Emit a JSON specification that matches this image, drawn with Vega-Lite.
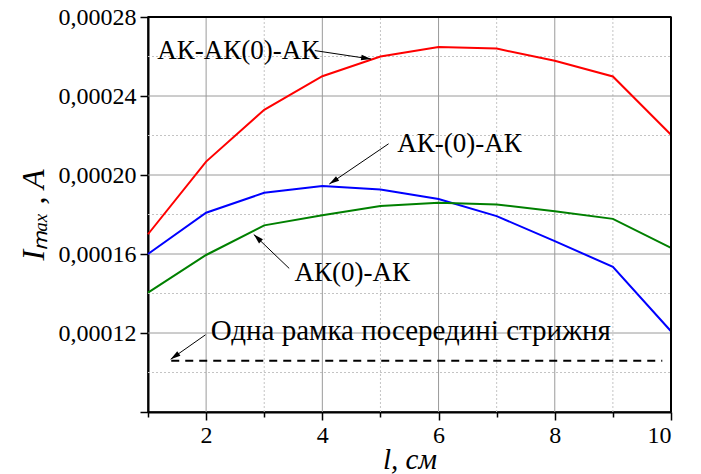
{
  "$schema": "https://vega.github.io/schema/vega-lite/v6.json",
  "width": 523,
  "height": 395,
  "autosize": {"type": "pad"},
  "padding": {"left": 17, "top": 5, "right": 5, "bottom": 0},
  "background": "white",
  "config": {
    "font": "Liberation Serif",
    "view": {"stroke": "black", "strokeWidth": 1.5},
    "axis": {
      "grid": false,
      "domainColor": "black",
      "domainWidth": 2,
      "tickColor": "black",
      "tickWidth": 1.5,
      "labelColor": "black",
      "labelFont": "Liberation Serif",
      "labelFontSize": 24,
      "titleColor": "black",
      "titleFont": "Liberation Serif",
      "titleFontWeight": "normal",
      "titleFontStyle": "italic"
    }
  },
  "datasets": {
    "curves": [
      {"l": 1, "I": 0.000170, "series": "АК-АК(0)-АК"},
      {"l": 2, "I": 0.0002068, "series": "АК-АК(0)-АК"},
      {"l": 3, "I": 0.0002330, "series": "АК-АК(0)-АК"},
      {"l": 4, "I": 0.0002500, "series": "АК-АК(0)-АК"},
      {"l": 5, "I": 0.0002600, "series": "АК-АК(0)-АК"},
      {"l": 6, "I": 0.0002648, "series": "АК-АК(0)-АК"},
      {"l": 7, "I": 0.0002640, "series": "АК-АК(0)-АК"},
      {"l": 8, "I": 0.0002578, "series": "АК-АК(0)-АК"},
      {"l": 9, "I": 0.0002499, "series": "АК-АК(0)-АК"},
      {"l": 10, "I": 0.0002204, "series": "АК-АК(0)-АК"},
      {"l": 1, "I": 0.000160, "series": "АК-(0)-АК"},
      {"l": 2, "I": 0.0001809, "series": "АК-(0)-АК"},
      {"l": 3, "I": 0.0001910, "series": "АК-(0)-АК"},
      {"l": 4, "I": 0.0001944, "series": "АК-(0)-АК"},
      {"l": 5, "I": 0.0001927, "series": "АК-(0)-АК"},
      {"l": 6, "I": 0.0001878, "series": "АК-(0)-АК"},
      {"l": 7, "I": 0.0001792, "series": "АК-(0)-АК"},
      {"l": 8, "I": 0.0001665, "series": "АК-(0)-АК"},
      {"l": 9, "I": 0.0001535, "series": "АК-(0)-АК"},
      {"l": 10, "I": 0.0001209, "series": "АК-(0)-АК"},
      {"l": 1, "I": 0.0001404, "series": "АК(0)-АК"},
      {"l": 2, "I": 0.0001595, "series": "АК(0)-АК"},
      {"l": 3, "I": 0.0001745, "series": "АК(0)-АК"},
      {"l": 4, "I": 0.0001796, "series": "АК(0)-АК"},
      {"l": 5, "I": 0.0001843, "series": "АК(0)-АК"},
      {"l": 6, "I": 0.0001860, "series": "АК(0)-АК"},
      {"l": 7, "I": 0.0001851, "series": "АК(0)-АК"},
      {"l": 8, "I": 0.0001817, "series": "АК(0)-АК"},
      {"l": 9, "I": 0.0001778, "series": "АК(0)-АК"},
      {"l": 10, "I": 0.0001631, "series": "АК(0)-АК"}
    ],
    "single": [
      {"l": 1.4, "I": 0.0001059},
      {"l": 9.85, "I": 0.0001059}
    ],
    "arrows": [
      {"id": 1, "x1": 3.87, "y1": 0.000263, "x2": 4.84, "y2": 0.0002587},
      {"id": 2, "x1": 5.14, "y1": 0.0002158, "x2": 4.12, "y2": 0.0001954},
      {"id": 3, "x1": 3.43, "y1": 0.0001527, "x2": 2.82, "y2": 0.0001699},
      {"id": 4, "x1": 1.99, "y1": 0.0001191, "x2": 1.39, "y2": 0.0001067}
    ],
    "labels": [
      {"x": 1.16, "y": 0.000263, "text": "АК-АК(0)-АК"},
      {"x": 5.29, "y": 0.0002158, "text": "АК-(0)-АК"},
      {"x": 3.52, "y": 0.0001506, "text": "АК(0)-АК"}
    ],
    "labels2": [
      {"x": 2.08, "y": 0.000121, "text": "Одна рамка посередині стрижня"}
    ],
    "xmajor": [
      {"l": 2, "lo": 0.00008, "hi": 0.00028},
      {"l": 4, "lo": 0.00008, "hi": 0.00028},
      {"l": 6, "lo": 0.00008, "hi": 0.00028},
      {"l": 8, "lo": 0.00008, "hi": 0.00028}
    ],
    "xminor": [
      {"l": 3, "lo": 0.00008, "hi": 0.00028},
      {"l": 5, "lo": 0.00008, "hi": 0.00028},
      {"l": 7, "lo": 0.00008, "hi": 0.00028},
      {"l": 9, "lo": 0.00008, "hi": 0.00028}
    ],
    "ymajor": [
      {"I": 0.00012, "lo": 1, "hi": 10},
      {"I": 0.00016, "lo": 1, "hi": 10},
      {"I": 0.0002, "lo": 1, "hi": 10},
      {"I": 0.00024, "lo": 1, "hi": 10}
    ],
    "yminor": [
      {"I": 0.0001, "lo": 1, "hi": 10},
      {"I": 0.00014, "lo": 1, "hi": 10},
      {"I": 0.00018, "lo": 1, "hi": 10},
      {"I": 0.00022, "lo": 1, "hi": 10},
      {"I": 0.00026, "lo": 1, "hi": 10}
    ],
    "xedge": [{"l": 10, "lo": 0.00008, "hi": 0.00028}],
    "yedge": [{"I": 0.00028, "lo": 1, "hi": 10}]
  },
  "layer": [
    {
      "data": {"name": "xminor"},
      "mark": {"type": "rule", "color": "#c4c4c4", "strokeWidth": 1, "strokeDash": [2, 2]},
      "encoding": {
        "x": {
          "field": "l", "type": "quantitative", "title": "l, см",
          "scale": {"domain": [1, 10], "nice": false, "zero": false},
          "axis": {
            "titleFontSize": 29,
            "titlePadding": -2,
            "values": [1, 2, 3, 4, 5, 6, 7, 8, 9, 10],
            "format": "d",
            "labelExpr": "datum.value % 2 == 0 ? datum.label : ''",
            "labelPadding": 3,
            "tickSize": {"condition": {"test": "datum.value % 2 != 0", "value": 5}, "value": 8}
          }
        },
        "y": {
          "field": "lo", "type": "quantitative", "title": "Iₘₐₓ , A",
          "scale": {"domain": [0.00008, 0.00028], "nice": false, "zero": false},
          "axis": {
            "titleFontSize": 32,
            "titlePadding": 8,
            "values": [0.00008, 0.0001, 0.00012, 0.00014, 0.00016, 0.00018, 0.0002, 0.00022, 0.00024, 0.00026, 0.00028],
            "labelExpr": "round(datum.value*1e5) % 4 == 0 && datum.value > 0.0001 ? replace(format(datum.value, '.5f'), '.', ',') : ''",
            "labelPadding": 4,
            "tickSize": {"condition": {"test": "round(datum.value*1e5) % 4 != 0", "value": 5}, "value": 8}
          }
        },
        "y2": {"field": "hi"}
      }
    },
    {
      "data": {"name": "yminor"},
      "mark": {"type": "rule", "color": "#c4c4c4", "strokeWidth": 1, "strokeDash": [2, 2]},
      "encoding": {
        "y": {"field": "I", "type": "quantitative", "title": "Iₘₐₓ , A"},
        "x": {"field": "lo", "type": "quantitative", "title": "l, см"},
        "x2": {"field": "hi"}
      }
    },
    {
      "data": {"name": "xmajor"},
      "mark": {"type": "rule", "color": "#9a9a9a", "strokeWidth": 1},
      "encoding": {
        "x": {"field": "l", "type": "quantitative", "title": "l, см"},
        "y": {"field": "lo", "type": "quantitative", "title": "Iₘₐₓ , A"},
        "y2": {"field": "hi"}
      }
    },
    {
      "data": {"name": "ymajor"},
      "mark": {"type": "rule", "color": "#9a9a9a", "strokeWidth": 1},
      "encoding": {
        "y": {"field": "I", "type": "quantitative", "title": "Iₘₐₓ , A"},
        "x": {"field": "lo", "type": "quantitative", "title": "l, см"},
        "x2": {"field": "hi"}
      }
    },
    {
      "data": {"name": "curves"},
      "mark": {"type": "line", "strokeWidth": 2},
      "encoding": {
        "x": {"field": "l", "type": "quantitative", "title": "l, см"},
        "y": {"field": "I", "type": "quantitative", "title": "Iₘₐₓ , A"},
        "color": {
          "field": "series", "type": "nominal",
          "scale": {"domain": ["АК-АК(0)-АК", "АК-(0)-АК", "АК(0)-АК"], "range": ["#ff0000", "#0000ff", "#008000"]},
          "legend": null
        }
      }
    },
    {
      "data": {"name": "single"},
      "mark": {"type": "line", "color": "black", "strokeWidth": 2, "strokeDash": [8, 6]},
      "encoding": {
        "x": {"field": "l", "type": "quantitative", "title": "l, см"},
        "y": {"field": "I", "type": "quantitative", "title": "Iₘₐₓ , A"}
      }
    },
    {
      "data": {"name": "arrows"},
      "mark": {"type": "rule", "color": "black", "strokeWidth": 1},
      "encoding": {
        "x": {"field": "x1", "type": "quantitative", "title": "l, см"},
        "y": {"field": "y1", "type": "quantitative", "title": "Iₘₐₓ , A"},
        "x2": {"field": "x2"},
        "y2": {"field": "y2"}
      }
    },
    {
      "data": {"name": "arrows"},
      "transform": [{"filter": "datum.id == 1"}],
      "mark": {"type": "point", "shape": "M0,0L-0.28,1L0.28,1Z", "filled": true, "color": "black", "opacity": 1, "size": 400, "angle": 98.6},
      "encoding": {
        "x": {"field": "x2", "type": "quantitative", "title": "l, см"},
        "y": {"field": "y2", "type": "quantitative", "title": "Iₘₐₓ , A"}
      }
    },
    {
      "data": {"name": "arrows"},
      "transform": [{"filter": "datum.id == 2"}],
      "mark": {"type": "point", "shape": "M0,0L-0.28,1L0.28,1Z", "filled": true, "color": "black", "opacity": 1, "size": 400, "angle": 235.8},
      "encoding": {
        "x": {"field": "x2", "type": "quantitative", "title": "l, см"},
        "y": {"field": "y2", "type": "quantitative", "title": "Iₘₐₓ , A"}
      }
    },
    {
      "data": {"name": "arrows"},
      "transform": [{"filter": "datum.id == 3"}],
      "mark": {"type": "point", "shape": "M0,0L-0.28,1L0.28,1Z", "filled": true, "color": "black", "opacity": 1, "size": 400, "angle": 313.8},
      "encoding": {
        "x": {"field": "x2", "type": "quantitative", "title": "l, см"},
        "y": {"field": "y2", "type": "quantitative", "title": "Iₘₐₓ , A"}
      }
    },
    {
      "data": {"name": "arrows"},
      "transform": [{"filter": "datum.id == 4"}],
      "mark": {"type": "point", "shape": "M0,0L-0.28,1L0.28,1Z", "filled": true, "color": "black", "opacity": 1, "size": 400, "angle": 234.9},
      "encoding": {
        "x": {"field": "x2", "type": "quantitative", "title": "l, см"},
        "y": {"field": "y2", "type": "quantitative", "title": "Iₘₐₓ , A"}
      }
    },
    {
      "data": {"name": "labels"},
      "mark": {"type": "text", "align": "left", "baseline": "middle", "font": "Liberation Serif", "fontSize": 27, "color": "black"},
      "encoding": {
        "x": {"field": "x", "type": "quantitative", "title": "l, см"},
        "y": {"field": "y", "type": "quantitative", "title": "Iₘₐₓ , A"},
        "text": {"field": "text"}
      }
    },
    {
      "data": {"name": "labels2"},
      "mark": {"type": "text", "align": "left", "baseline": "middle", "font": "Liberation Serif", "fontSize": 29, "color": "black"},
      "encoding": {
        "x": {"field": "x", "type": "quantitative", "title": "l, см"},
        "y": {"field": "y", "type": "quantitative", "title": "Iₘₐₓ , A"},
        "text": {"field": "text"}
      }
    },
    {
      "data": {"name": "xedge"},
      "mark": {"type": "rule", "color": "black", "strokeWidth": 2},
      "encoding": {
        "x": {"field": "l", "type": "quantitative", "title": "l, см"},
        "y": {"field": "lo", "type": "quantitative", "title": "Iₘₐₓ , A"},
        "y2": {"field": "hi"}
      }
    },
    {
      "data": {"name": "yedge"},
      "mark": {"type": "rule", "color": "black", "strokeWidth": 2},
      "encoding": {
        "y": {"field": "I", "type": "quantitative", "title": "Iₘₐₓ , A"},
        "x": {"field": "lo", "type": "quantitative", "title": "l, см"},
        "x2": {"field": "hi"}
      }
    }
  ]
}
